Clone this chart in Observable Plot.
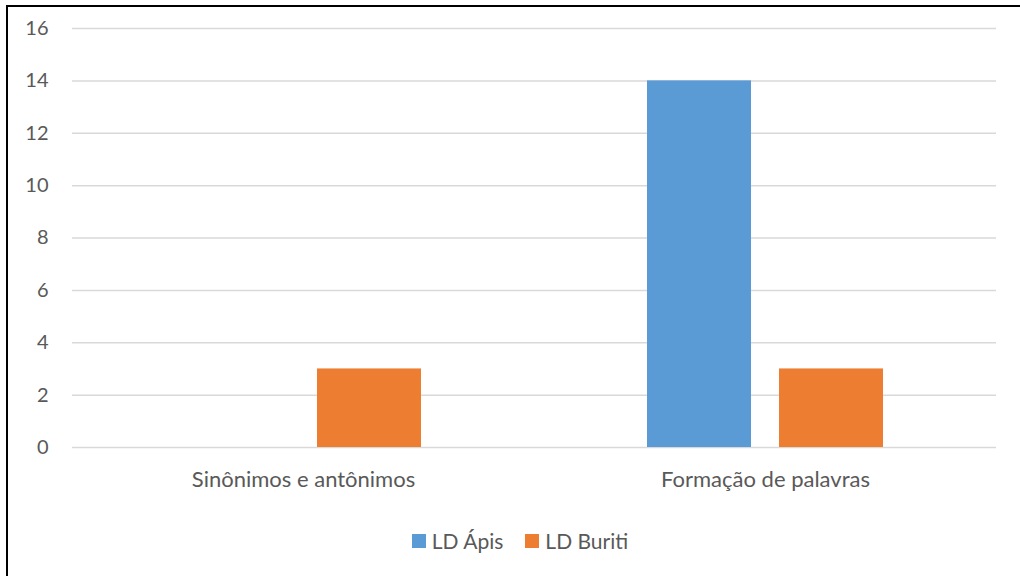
<!DOCTYPE html>
<html>
<head>
<meta charset="utf-8">
<script src="https://cdn.jsdelivr.net/npm/d3@7"></script>
<script src="https://cdn.jsdelivr.net/npm/@observablehq/plot@0.6"></script>
<style>
  html, body { margin: 0; padding: 0; background: #fff; }
  #wrap { position: relative; width: 1020px; height: 576px; overflow: hidden; font-family: Lato, "Noto Sans", sans-serif; }
  #frame { position: absolute; left: 6px; top: 5px; width: 1100px; height: 700px; border: 2px solid #000; box-sizing: border-box; }
  #chart { position: absolute; left: 0; top: 0; }
  #legend { position: absolute; top: 528px; left: 0; width: 1040px; display: flex; justify-content: center; gap: 22px; font-size: 21px; color: #595959; }
  .item { display: flex; align-items: center; gap: 6px; }
  .sw { width: 14px; height: 14px; display: inline-block; }
</style>
</head>
<body>
<div id="wrap">
  <div id="frame"></div>
  <div id="chart"></div>
  <div id="legend"></div>
</div>
<script>
const categories = ["Sinônimos e antônimos", "Formação de palavras"];
const series = ["LD Ápis", "LD Buriti"];
const apis = [0, 14];
const buriti = [3, 3];
const yTicks = [0, 2, 4, 6, 8, 10, 12, 14, 16];
const colors = ["#5B9BD5", "#ED7D31"];

const table = [];
categories.forEach((c, i) => {
  table.push({category: c, series: series[0], value: apis[i]});
  table.push({category: c, series: series[1], value: buriti[i]});
});

const chart = Plot.plot({
  width: 1020,
  height: 510,
  marginLeft: 72,
  marginRight: 24,
  marginTop: 28,
  marginBottom: 63,
  style: {fontFamily: "Lato, 'Noto Sans', sans-serif", fontSize: "20px", color: "#595959", background: "transparent"},
  fx: {domain: categories, padding: 0, label: null, axis: null},
  x: {domain: series, axis: null, paddingInner: 0.212, paddingOuter: 0.856},
  y: {domain: [0, 16], axis: null},
  color: {domain: series, range: colors},
  marks: [
    Plot.ruleY(yTicks, {stroke: "#d9d9d9", strokeWidth: 1.5}),
    Plot.barY(table, {fx: "category", x: "series", y: "value", fill: "series"}),
    Plot.axisY({ticks: yTicks, tickSize: 0, tickPadding: 24, fontSize: 20, fill: "#595959", label: null}),
    Plot.axisFx({anchor: "bottom", tickSize: 0, tickPadding: 24, fontSize: 22, fill: "#595959", label: null})
  ]
});
document.getElementById("chart").appendChild(chart);

const legend = document.getElementById("legend");
series.forEach((s, i) => {
  const it = document.createElement("div");
  it.className = "item";
  const sw = document.createElement("span");
  sw.className = "sw";
  sw.style.background = colors[i];
  const t = document.createElement("span");
  t.textContent = s;
  it.appendChild(sw);
  it.appendChild(t);
  legend.appendChild(it);
});
</script>
</body>
</html>
